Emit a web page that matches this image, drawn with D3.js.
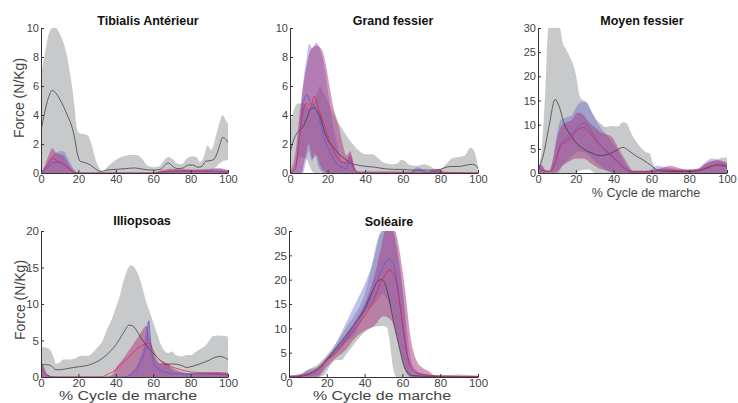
<!DOCTYPE html>
<html><head><meta charset="utf-8">
<script src="https://cdn.jsdelivr.net/npm/d3@7"></script>
<style>body{margin:0;background:#fff}svg{display:block}text{font-family:"Liberation Sans",Arial,sans-serif}</style>
</head><body><svg id="c" width="738" height="403"></svg>
<script>
const X_TICKS = [0,20,40,60,80,100];
const ZERO = [[0,0],[100,0]];

// ---- Tibialis Antérieur ----
const TA_YTICKS = [0,2,4,6,8,10];
const TA_GRAY_UP = [[0,6.7],[2,8.2],[4,9.5],[6,10],[8,10],[10,9.6],[12,9.0],[14,8.0],[16,6.5],[18,4.5],[19,3.2],[20,2.8],[22,2.7],[25,2.6],[27,2.0],[29,1.0],[31,0.4],[33,0.1],[36,0.5],[40,0.9],[44,1.15],[48,1.25],[51,1.25],[54,1.0],[57,0.5],[60,0.4],[63,0.45],[66,0.9],[68,1.1],[70,1.0],[73,0.65],[75,0.6],[78,1.0],[81,1.15],[83,1.1],[85,0.75],[87,1.1],[89,1.9],[91,1.6],[94,2.8],[96,3.7],[97,4.0],[99,3.6],[100,3.4]];
const TA_GRAY_LO = [[0,0],[88,0],[92,0.2],[95,0.6],[97,0.8],[100,0.9]];
const TA_MEAN = [[0,2.9],[2,4.2],[4,5.2],[6,5.7],[8,5.5],[10,5.1],[12,4.6],[14,4.0],[16,3.4],[18,2.4],[19.5,1.3],[21,0.8],[24,0.7],[27,0.5],[30,0.2],[32,0.1],[35,0.2],[40,0.25],[45,0.3],[50,0.35],[55,0.25],[60,0.2],[64,0.25],[66,0.5],[68,0.7],[70,0.5],[73,0.3],[76,0.35],[79,0.55],[81,0.55],[84,0.4],[86,0.45],[88,0.8],[90,0.85],[92,0.9],[94,1.3],[96,2.1],[97,2.45],[99,2.3],[100,2.1]];
const TA_BLUE_UP = [[0,0],[2,0.3],[4,0.8],[6,1.2],[8,1.4],[10,1.5],[12,1.5],[14,1.1],[16,0.6],[18,0.2],[20,0],[60,0],[65,0.1],[70,0.2],[80,0.2],[90,0.3],[95,0.35],[100,0.2]];
const TA_BLUE_LO = ZERO;
const TA_RED_UP = [[0,0],[2,0.5],[4,1.2],[6,1.7],[8,1.4],[10,1.3],[12,1.2],[14,0.8],[16,0.4],[18,0.1],[20,0],[60,0],[65,0.2],[70,0.3],[75,0.3],[80,0.25],[90,0.25],[95,0.3],[100,0.2]];
const TA_RED_LO = ZERO;
const TA_BLUE_LINE = [[0,0],[3,0.3],[6,0.7],[9,0.75],[12,0.7],[15,0.3],[18,0.05],[20,0],[60,0],[65,0.05],[75,0.1],[90,0.15],[100,0.1]];
const TA_RED_LINE = [[0,0],[3,0.5],[6,1.0],[8,0.9],[10,0.7],[13,0.5],[16,0.2],[19,0],[60,0],[65,0.1],[75,0.15],[90,0.1],[100,0.05]];

// ---- Grand fessier ----
const GF_YTICKS = [0,2,4,6,8,10];
const GF_GRAY_UP = [[0,3.4],[2,4.3],[4,4.8],[8,4.8],[10,4.5],[13,5.0],[16,6],[18,5.5],[20,5.0],[22,4.4],[25,3.6],[28,3.0],[31,2.4],[34,1.9],[37,1.5],[40,1.3],[44,1.3],[47,1.0],[50,0.7],[54,0.6],[57,0.65],[59,0.9],[61,0.85],[63,0.6],[66,0.5],[68,0.5],[71,0.6],[74,0.5],[77,0.3],[80,0.3],[83,0.6],[86,1.0],[90,1.1],[93,1.2],[96,1.75],[98,1.5],[100,0.4]];
const GF_GRAY_LO = [[0,0],[2,0.3],[4,0.9],[6,1.1],[9,0.9],[11,0.3],[13,0],[100,0]];
const GF_MEAN = [[0,1.4],[2,2.3],[4,2.8],[7,3.2],[9,3.8],[11.5,4.5],[13,4.45],[16,3.9],[18,3.0],[20,2.3],[23,1.8],[26,1.3],[29,1.0],[32,0.7],[36,0.55],[41,0.45],[45,0.4],[50,0.3],[55,0.25],[60,0.25],[65,0.2],[70,0.2],[75,0.2],[80,0.25],[83,0.4],[86,0.45],[90,0.45],[94,0.55],[97,0.6],[99,0.5],[100,0.3]];
const GF_BLUE_UP = [[0,0],[3,0.5],[5,3],[7,6.2],[9,8],[10,8.9],[12,8.6],[14,9.0],[16,8.5],[18,7.5],[20,5.8],[22,4],[25,2],[28,0.8],[30,0.8],[32,1.3],[34,0.5],[36,0.1],[40,0],[64,0],[66,0.3],[68,0.4],[70,0.3],[73,0.1],[76,0.1],[78,0.25],[80,0.1],[82,0],[100,0]];
const GF_BLUE_LO = [[0,0],[7,0],[8,0.5],[10,1.5],[11,1.0],[12,0.8],[13,1.5],[15,0.5],[18,0],[100,0]];
const GF_RED_UP = [[0,0.1],[3,1.5],[5,4.0],[7,6],[9,7.5],[11,8.5],[14,8.8],[17,8.5],[19,7.5],[21,6],[23,4.6],[26,3.2],[28,2.0],[30,1.2],[32,1.5],[34,0.6],[36,0],[72,0],[76,0.2],[80,0.2],[82,0],[100,0]];
const GF_RED_LO = [[0,0],[6,0],[8,1],[10,2],[12,1],[14,1.2],[16,0.5],[20,0],[100,0]];
const GF_BLUE_LINE = [[0,0],[3,0.3],[5,2.5],[7,4.8],[9,5.4],[11,4.8],[13,4.6],[15,4.0],[18,2.5],[21,1.5],[24,0.8],[27,0.4],[30,0.3],[32,0.9],[34,0.3],[36,0.05],[64,0.05],[68,0.2],[72,0.05],[100,0]];
const GF_RED_LINE = [[0,0],[3,0.5],[5,2.5],[7,4.3],[9,4.8],[11,4.6],[13,5.3],[15,4.5],[18,3.4],[21,2.2],[24,1.3],[27,0.8],[30,0.7],[32,1.1],[34,0.3],[36,0.05],[74,0.05],[78,0.15],[82,0.05],[100,0]];

// ---- Moyen fessier ----
const MF_YTICKS = [0,5,10,15,20,25,30];
const MF_GRAY_UP = [[0,1],[2,5],[4,18],[5.5,30],[11.5,30],[13,27],[15,25.5],[18,23],[20,20.5],[22,16],[24,15],[26,14.5],[28,13],[30,11.5],[33,10.3],[36,9.5],[39,9.7],[42,9.6],[45,10.5],[47,10.2],[49,8.5],[52,6.5],[55,5],[57,4.3],[59,4.1],[61,1.8],[63,0.8],[66,0.5],[70,0.6],[75,0.5],[80,0.6],[85,1.0],[88,1.5],[91,2.2],[95,2.8],[98,3.2],[100,3.2]];
const MF_GRAY_LO = [[0,0],[20,0],[22,0.5],[27,0.7],[30,0],[100,0]];
const MF_MEAN = [[0,0.5],[3,4],[6,10],[9,15.2],[11,14],[14,10],[17,8],[20,6.3],[24,5],[28,4.2],[33,3.6],[38,4],[42,4.8],[45,5.3],[48,4.6],[52,3.5],[56,2.6],[60,1.5],[63,0.6],[66,0.4],[70,0.3],[80,0.3],[85,0.5],[90,1.1],[95,1.7],[100,1.4]];
const MF_BLUE_UP = [[0,1.5],[2,1.8],[4,0.5],[6,0.5],[8,3],[10,8],[12,11],[15,11.5],[18,12],[20,13.5],[22,14.5],[24,14.8],[26,14.5],[28,13],[30,11.5],[33,9.5],[36,8],[40,6],[44,3.5],[47,1.5],[50,0.5],[55,0.3],[60,0.8],[63,1.5],[66,1.3],[70,1],[75,0.8],[80,0.7],[85,1.0],[88,2],[92,3],[95,2.8],[98,2.5],[100,2.2]];
const MF_BLUE_LO = [[0,0],[10,0.5],[14,2.0],[18,3.5],[22,4.5],[26,4],[30,2.5],[34,1.2],[38,0.3],[40,0],[100,0]];
const MF_RED_UP = [[0,1.5],[2,1.5],[4,0.5],[6,0.4],[8,3],[10,7],[12,9.5],[15,10.5],[18,11],[21,12.5],[24,12],[27,10.5],[30,9.5],[33,8.5],[36,8],[39,7.5],[42,5.5],[45,3.5],[48,1.5],[50,0.5],[60,0.5],[65,1.0],[70,1.5],[75,1.0],[80,0.7],[85,0.8],[88,1.8],[92,2.5],[95,2.6],[100,2]];
const MF_RED_LO = [[0,0],[10,0],[13,1.5],[17,2.5],[20,3.0],[24,3],[28,2.0],[32,1.0],[36,0.5],[40,0],[100,0]];
const MF_BLUE_LINE = [[0,1.0],[3,0.5],[6,0.3],[9,2],[12,6],[15,7],[18,8],[21,9.5],[24,10.3],[27,9.5],[30,7.5],[34,5.5],[38,4],[42,2.5],[46,1.0],[50,0.3],[60,0.3],[65,0.7],[70,0.6],[80,0.4],[85,0.6],[90,1.2],[95,1.6],[100,1.2]];
const MF_RED_LINE = [[0,1.0],[3,0.5],[6,0.3],[9,2],[12,5.5],[15,6.5],[18,7.5],[21,9],[24,9.4],[27,8.6],[30,7],[34,5.3],[38,3.8],[42,2.2],[46,0.8],[50,0.2],[60,0.3],[65,0.5],[70,0.6],[80,0.4],[85,0.5],[90,1.2],[95,1.7],[100,1.5]];

// ---- Illiopsoas ----
const IL_YTICKS = [0,5,10,15,20];
const IL_GRAY_UP = [[0,3.5],[1,4.1],[3,4.0],[5,3.7],[7,2.5],[8,1.8],[10,2.0],[12,2.4],[15,2.4],[18,2.5],[20,2.8],[22,2.9],[25,2.9],[27,3.2],[30,4.0],[33,5.0],[35,6.3],[38,8.0],[40,9.5],[42,11],[44,13],[46,14.6],[48,15.3],[50,15.0],[52,14.0],[54,12.5],[56,10.5],[58,9.0],[60,7.5],[62,6.0],[64,4.5],[66,3.6],[68,3.3],[70,3.5],[72,3.0],[75,2.8],[78,3.0],[80,3.0],[82,3.3],[85,3.8],[88,4.3],[90,5.0],[92,5.6],[95,5.7],[98,5.6],[100,5.5]];
const IL_GRAY_LO = ZERO;
const IL_MEAN = [[0,1.6],[2,1.7],[5,1.6],[8,1.0],[10,1.0],[15,1.2],[20,1.4],[25,1.6],[30,2.1],[35,3.0],[40,4.4],[44,6.0],[47,7.1],[49,7.0],[52,6.0],[55,4.8],[58,3.8],[61,3.0],[64,2.2],[67,1.7],[70,1.8],[75,1.6],[78,1.3],[80,1.4],[85,1.8],[90,2.3],[93,2.7],[96,2.8],[100,2.4]];
const IL_BLUE_UP = [[0,1.5],[2,0.5],[5,0],[45,0],[48,0.5],[52,2],[55,4.5],[57,7.6],[58,6.5],[60,3.5],[63,2.0],[66,1.8],[68,1.5],[70,1.0],[75,0.6],[80,0.5],[90,0.6],[95,0.7],[100,0.5]];
const IL_BLUE_LO = ZERO;
const IL_RED_UP = [[0,1.7],[1,1.8],[2,0.8],[4,0.3],[6,0.1],[10,0],[35,0],[38,0.3],[40,1.2],[44,2.5],[48,4],[52,5.5],[55,6.7],[56,7.0],[57,6.8],[58,5.5],[60,3.5],[62,2.3],[64,1.8],[66,2.0],[68,1.9],[70,1.3],[72,1.0],[75,0.7],[80,0.5],[85,0.6],[90,0.7],[95,0.7],[100,0.6]];
const IL_RED_LO = ZERO;
const IL_BLUE_LINE = [[0,1.6],[1,1.5],[3,0.3],[6,0],[44,0],[47,0.2],[50,0.8],[53,1.9],[55,3.2],[56.5,4.6],[57.7,7.7],[58.5,5],[59.5,2.8],[61,1.5],[64,0.9],[70,0.5],[80,0.4],[90,0.4],[100,0.3]];
const IL_RED_LINE = [[0,1.5],[2,0.5],[4,0.2],[6,0],[32,0],[35,0.3],[40,1.0],[44,2.0],[48,3.0],[53,4.2],[56,4.5],[58,4.6],[60,3.6],[62,2.7],[65,2.1],[68,1.6],[72,1.2],[76,0.9],[80,0.7],[90,0.5],[100,0.4]];

// ---- Soléaire ----
const SO_YTICKS = [0,5,10,15,20,25,30];
const SO_GRAY_UP = [[0,0.3],[5,0.5],[10,1.5],[15,2.5],[20,4.5],[25,7.0],[30,10],[35,13],[38,15],[40,17],[42,20],[44,23],[46,27],[48,29.5],[49,30],[55,30],[57,26],[59,21],[60.6,15.8],[62.4,6.9],[64,1.7],[66,0.5],[70,0.3],[80,0.3],[90,0.5],[95,0.4],[100,0.3]];
const SO_GRAY_LO = [[0,0],[16,0],[19,0.5],[22,2.5],[25,3.5],[28,3.5],[30,4.5],[33,6],[37,8],[41,9.5],[45,10.3],[50,10.5],[52,10],[53,8],[54,5],[55,2],[57,0],[100,0]];
const SO_MEAN = [[0,0],[5,0.1],[10,0.5],[15,1.5],[20,3.5],[25,6],[30,8.5],[35,11],[40,14],[44,17.5],[47,19.7],[49,20],[51,19],[53,16],[55,12],[57,8.5],[59,5],[61,2],[63,0.8],[65,0.3],[70,0.2],[80,0.1],[100,0.1]];
const SO_BLUE_UP = [[0,0.3],[5,0.3],[10,1.5],[15,2],[20,4],[25,7],[30,11],[35,15],[40,19],[43,22],[46,26],[48,29],[50,30],[55,30],[57,27],[59,22],[61,15],[63,8],[65,3],[67,1.5],[70,0.8],[75,0.3],[80,0.1],[100,0]];
const SO_BLUE_LO = [[0,0],[15,0.3],[20,3],[25,5],[30,7],[35,9],[40,13],[45,15],[48,16.5],[50,17],[52,16],[54,14],[56,11],[58,7],[60,3.5],[62,1],[64,0],[100,0]];
const SO_RED_UP = [[0,0.3],[10,1.0],[15,2],[20,4],[25,6],[30,8.5],[35,11.5],[40,15],[43,18],[46,22],[49,27],[51,30],[56,30],[58,27],[60,22],[62,16],[64,9],[66,5],[68,3],[71,1.8],[74,1.2],[77,0.3],[80,0],[100,0]];
const SO_RED_LO = [[0,0],[15,0],[20,2],[25,4],[30,5.5],[35,8],[40,9.5],[45,10.5],[50,12.5],[53,12],[55,11],[57,8],[59,5],[61,2],[63,0.5],[65,0],[100,0]];
const SO_BLUE_LINE = [[0,0],[10,0.5],[15,1.5],[20,3.5],[25,5.5],[30,8],[35,11],[40,13.5],[45,18],[48,21],[51,23.5],[53,24.3],[55,23.5],[57,20],[59,14],[61,8],[63,3.5],[65,1.5],[67,0.8],[70,0.5],[80,0.2],[100,0.1]];
const SO_RED_LINE = [[0,0],[10,0.5],[15,1.5],[20,3.5],[25,5],[30,7.5],[35,10],[40,12.5],[45,16],[48,19],[51,21],[53,22],[55,21.5],[57,19],[59,14],[61,8.5],[63,4],[65,1.8],[67,1],[70,0.6],[80,0.2],[100,0.1]];

const panels = [
  {title:"Tibialis Antérieur", box:[41,228,28,173], ymax:10, yticks:TA_YTICKS, tx:148, ty:25, ylab:[19,98], xlab:null, fs:11,
   g:[TA_GRAY_UP,TA_GRAY_LO], m:TA_MEAN, b:[TA_BLUE_UP,TA_BLUE_LO], r:[TA_RED_UP,TA_RED_LO], bl:TA_BLUE_LINE, rl:TA_RED_LINE},
  {title:"Grand fessier", box:[290,478,28,173], ymax:10, yticks:GF_YTICKS, tx:393, ty:25, ylab:null, xlab:null, fs:11,
   g:[GF_GRAY_UP,GF_GRAY_LO], m:GF_MEAN, b:[GF_BLUE_UP,GF_BLUE_LO], r:[GF_RED_UP,GF_RED_LO], bl:GF_BLUE_LINE, rl:GF_RED_LINE},
  {title:"Moyen fessier", box:[538,727,28,173], ymax:30, yticks:MF_YTICKS, tx:642, ty:25, ylab:null, xlab:[646,197,12.5,null], fs:11,
   g:[MF_GRAY_UP,MF_GRAY_LO], m:MF_MEAN, b:[MF_BLUE_UP,MF_BLUE_LO], r:[MF_RED_UP,MF_RED_LO], bl:MF_BLUE_LINE, rl:MF_RED_LINE},
  {title:"Illiopsoas", box:[41,228,231,377], ymax:20, yticks:IL_YTICKS, tx:142, ty:225, ylab:[20,300], xlab:[128,399.5,12,138], fs:11.5,
   g:[IL_GRAY_UP,IL_GRAY_LO], m:IL_MEAN, b:[IL_BLUE_UP,IL_BLUE_LO], r:[IL_RED_UP,IL_RED_LO], bl:IL_BLUE_LINE, rl:IL_RED_LINE},
  {title:"Soléaire", box:[289,478,231,377], ymax:30, yticks:SO_YTICKS, tx:389, ty:226, ylab:null, xlab:[382,399.5,12,138], fs:11.5,
   g:[SO_GRAY_UP,SO_GRAY_LO], m:SO_MEAN, b:[SO_BLUE_UP,SO_BLUE_LO], r:[SO_RED_UP,SO_RED_LO], bl:SO_BLUE_LINE, rl:SO_RED_LINE}
];

const svg = d3.select("#c");
panels.forEach((p,i) => {
  const [xl,xr,yt,yb] = p.box;
  const x = d3.scaleLinear().domain([0,100]).range([xl,xr]);
  const y = d3.scaleLinear().domain([0,p.ymax]).range([yb,yt]);
  const line = d3.line().x(d=>x(d[0])).y(d=>y(d[1])).curve(d3.curveMonotoneX);
  const band = (up,lo) => line(up) + "L" + line(lo.slice().reverse()).slice(1) + "Z";
  const cid = "clip"+i;
  svg.append("clipPath").attr("id",cid).append("rect").attr("x",xl).attr("y",yt).attr("width",xr-xl).attr("height",yb-yt);
  const g = svg.append("g").attr("clip-path",`url(#${cid})`);
  g.append("path").attr("d",band(p.g[0],p.g[1])).attr("fill","#c8c9ca");
  g.append("path").attr("d",band(p.b[0],p.b[1])).attr("fill","rgb(100,100,210)").attr("fill-opacity",0.4);
  g.append("path").attr("d",band(p.r[0],p.r[1])).attr("fill","rgb(165,55,125)").attr("fill-opacity",0.5);
  g.append("path").attr("d",line(p.m)).attr("fill","none").attr("stroke","#3a3a3a").attr("stroke-width",0.75);
  g.append("path").attr("d",line(p.bl)).attr("fill","none").attr("stroke","#5a5ad0").attr("stroke-width",0.75);
  g.append("path").attr("d",line(p.rl)).attr("fill","none").attr("stroke","#e8203c").attr("stroke-width",0.75);

  const ax = svg.append("g").attr("transform",`translate(0,${yb})`)
    .call(d3.axisBottom(x).tickValues(X_TICKS).tickSizeInner(-3).tickSizeOuter(0).tickPadding(2));
  const ay = svg.append("g").attr("transform",`translate(${xl},0)`)
    .call(d3.axisLeft(y).tickValues(p.yticks).tickSizeInner(-3).tickSizeOuter(0).tickPadding(2));
  [ax,ay].forEach(a => {
    a.select(".domain").attr("stroke","#333");
    a.selectAll(".tick line").attr("stroke","#333");
    a.selectAll(".tick text").attr("fill","#444").attr("font-size",p.fs).attr("font-family","'Liberation Sans',Arial,sans-serif");
  });
  svg.append("text").attr("x",p.tx).attr("y",p.ty).attr("text-anchor","middle")
    .attr("font-weight","bold").attr("font-size",12.5).attr("fill","#111").text(p.title);
  if (p.ylab) svg.append("text").attr("transform",`translate(${p.ylab[0]},${p.ylab[1]}) rotate(-90)`)
    .attr("text-anchor","middle").attr("dy","0.35em").attr("font-size",14).attr("fill","#444").text("Force (N/Kg)");
  if (p.xlab) {
    const t = svg.append("text").attr("x",p.xlab[0]).attr("y",p.xlab[1]).attr("text-anchor","middle")
      .attr("font-size",p.xlab[2]).attr("fill","#444").text("% Cycle de marche");
    if (p.xlab[3]) t.attr("textLength",p.xlab[3]).attr("lengthAdjust","spacingAndGlyphs");
  }
});
</script></body></html>
